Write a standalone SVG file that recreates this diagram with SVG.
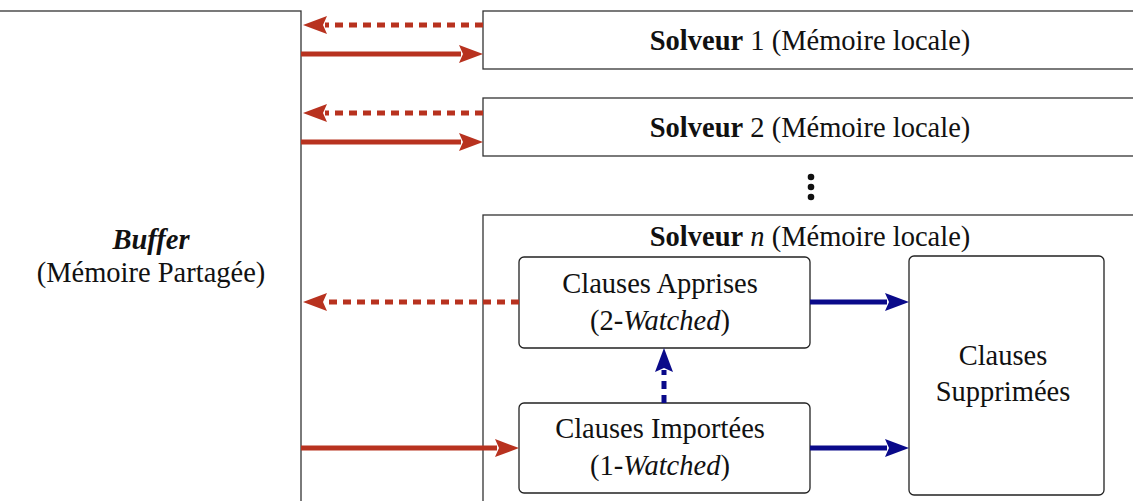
<svg xmlns="http://www.w3.org/2000/svg" width="1133" height="501" viewBox="0 0 1133 501" font-family="'Liberation Serif', 'DejaVu Serif', serif" font-size="28.5">
<style>
.box{fill:#fff;stroke:#333;stroke-width:1.3}
.rbox{fill:#fff;stroke:#222;stroke-width:1.3}
text{font-family:'Liberation Serif','DejaVu Serif',serif;font-size:28.5px;fill:#111;text-anchor:middle}
.b{font-weight:bold}
.i{font-style:italic}
.red{stroke:#b8321f;stroke-width:5;fill:none}
.blue{stroke:#0a0a8a;stroke-width:5;fill:none}
.dash{stroke-dasharray:8 6}
</style>
<defs>
<marker id="ar" markerUnits="userSpaceOnUse" markerWidth="24" markerHeight="20" refX="0" refY="9" orient="auto" overflow="visible">
<path d="M-2,0 L22,9 L-2,18 L2,9 Z" fill="#b8321f"/>
</marker>
<marker id="ab" markerUnits="userSpaceOnUse" markerWidth="24" markerHeight="20" refX="0" refY="9" orient="auto" overflow="visible">
<path d="M-2,0 L22,9 L-2,18 L2,9 Z" fill="#0a0a8a"/>
</marker>
</defs>
<g id="buffer">
<rect class="box" x="-5" y="11" width="306" height="500"/>
<text x="151" y="249" class="b i">Buffer</text>
<text x="151" y="282">(Mémoire Partagée)</text>
</g>
<g id="solveur1">
<rect class="box" x="483" y="11" width="660" height="58"/>
<text x="810" y="50"><tspan class="b">Solveur</tspan> 1 (Mémoire locale)</text>
</g>
<g id="solveur2">
<rect class="box" x="483" y="98" width="660" height="58"/>
<text x="810" y="137"><tspan class="b">Solveur</tspan> 2 (Mémoire locale)</text>
</g>
<g id="dots" fill="#111">
<circle cx="811" cy="177" r="3.3"/>
<circle cx="811" cy="187" r="3.3"/>
<circle cx="811" cy="197" r="3.3"/>
</g>
<g id="solveurn">
<rect class="box" x="483" y="215" width="660" height="300"/>
<text x="810" y="246"><tspan class="b">Solveur</tspan> <tspan class="i">n</tspan> (Mémoire locale)</text>
</g>
<g id="apprises">
<rect class="rbox" x="519" y="257" width="291" height="91" rx="5"/>
<text x="660" y="293">Clauses Apprises</text>
<text x="660" y="330">(2-<tspan class="i">Watched</tspan>)</text>
</g>
<g id="importees">
<rect class="rbox" x="519" y="403" width="291" height="90" rx="5"/>
<text x="660" y="438">Clauses Importées</text>
<text x="660" y="475">(1-<tspan class="i">Watched</tspan>)</text>
</g>
<g id="supprimees">
<rect class="rbox" x="909" y="256" width="195" height="239" rx="5"/>
<text x="1003" y="365">Clauses</text>
<text x="1003" y="401">Supprimées</text>
</g>
<g id="connectors">
<line class="red dash" x1="483" y1="25" x2="325" y2="25" marker-end="url(#ar)"/>
<line class="red" x1="301" y1="54" x2="461" y2="54" marker-end="url(#ar)"/>
<line class="red dash" x1="483" y1="113" x2="325" y2="113" marker-end="url(#ar)"/>
<line class="red" x1="301" y1="142" x2="461" y2="142" marker-end="url(#ar)"/>
<line class="red dash" x1="519" y1="302" x2="325" y2="302" marker-end="url(#ar)"/>
<line class="red" x1="301" y1="448" x2="497" y2="448" marker-end="url(#ar)"/>
<line class="blue" x1="810" y1="302" x2="887" y2="302" marker-end="url(#ab)"/>
<line class="blue" x1="810" y1="448" x2="887" y2="448" marker-end="url(#ab)"/>
<line class="blue dash" x1="664" y1="403" x2="664" y2="370" marker-end="url(#ab)"/>
</g>
</svg>
